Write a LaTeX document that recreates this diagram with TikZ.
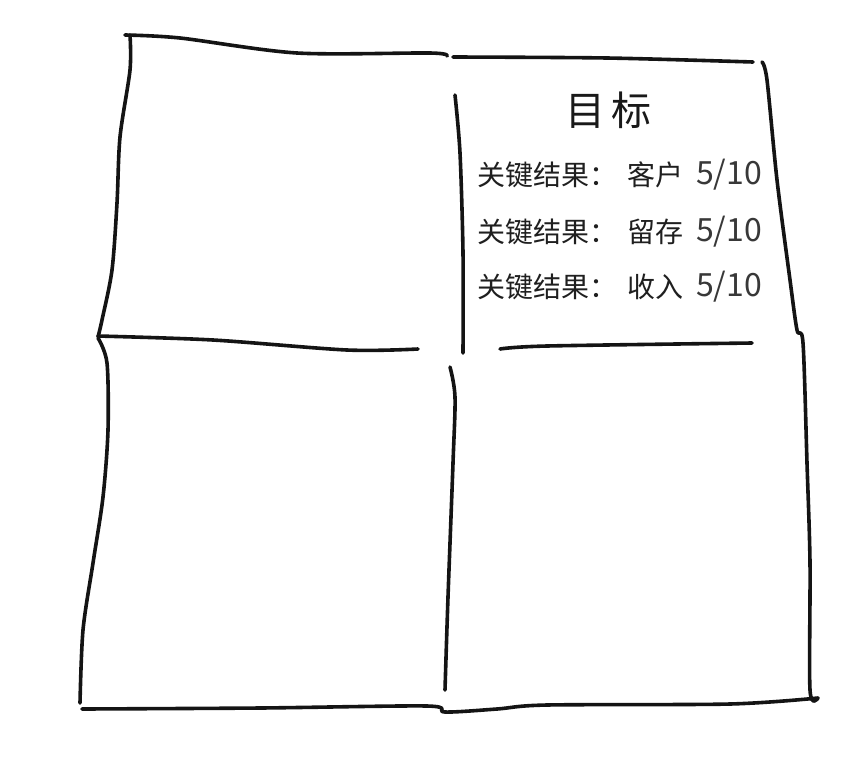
\documentclass[tikz,border=0pt]{standalone}
\usepackage{fontspec}
\setmainfont{Noto Sans CJK SC}
\begin{document}
\begin{tikzpicture}[x=1pt,y=-1pt,
  stroke/.style={line width=3.6pt,line cap=round,line join=round,black!92},
  kr/.style={font=\fontsize{28}{28}\selectfont,text=black!88,inner sep=0pt},
  num/.style={font=\fontsize{32}{32}\selectfont,text=black!78,inner sep=0pt},
  title/.style={font=\fontsize{40}{40}\selectfont,text=black!90,inner sep=0pt}]
\useasboundingbox[fill=white] (0,0) rectangle (854,764);
% top edge, left part
\draw[stroke] plot[smooth,tension=0.5] coordinates {(125,35) (180,38) (297,53) (430,53) (447,56)};
% top edge, right part
\draw[stroke] plot[smooth,tension=0.5] coordinates {(453,57) (607,58) (753,62)};
% outer left edge, upper
\draw[stroke] plot[smooth,tension=0.5] coordinates {(130,35) (130,70) (120,137) (117,203) (112,270) (102,320) (98,337)};
% outer left edge, lower
\draw[stroke] plot[smooth,tension=0.5] coordinates {(98,338) (107,363) (108,430) (103,497) (93,563) (83,630) (80,703)};
% outer right edge
\draw[stroke] plot[smooth,tension=0.5] coordinates {(762,62) (767,80) (777,180) (790,280) (797,330) (803,343) (807,463) (810,563) (810,690) (818,698)};
% bottom edge
\draw[stroke] plot[smooth,tension=0.5] coordinates {(82,709) (260,708) (427,706) (445,712) (497,709) (547,705) (730,704) (818,698)};
% middle horizontal, left
\draw[stroke] plot[smooth,tension=0.5] coordinates {(98,336) (213,340) (347,350) (418,349)};
% middle horizontal, right
\draw[stroke] plot[smooth,tension=0.5] coordinates {(500,349) (547,346) (752,343)};
% middle vertical, upper
\draw[stroke] plot[smooth,tension=0.5] coordinates {(455,95) (460,153) (463,253) (463,353)};
% middle vertical, lower
\draw[stroke] plot[smooth,tension=0.5] coordinates {(450,367) (455,397) (453,463) (448,597) (445,690)};
% texts
\node[title] (t) at (608,110) {目\hspace{6pt}标};
\node[kr,anchor=west] (k1) at (477,175) {关键结果：};
\node[kr,anchor=west] (v1) at (627,175) {客户};
\node[num,anchor=west] (n1) at (696,175) {5/10};
\node[kr,anchor=west] (k2) at (477,232) {关键结果：};
\node[kr,anchor=west] (v2) at (627,232) {留存};
\node[num,anchor=west] (n2) at (696,232) {5/10};
\node[kr,anchor=west] (k3) at (477,287) {关键结果：};
\node[kr,anchor=west] (v3) at (627,287) {收入};
\node[num,anchor=west] (n3) at (696,287) {5/10};
\end{tikzpicture}
\end{document}
